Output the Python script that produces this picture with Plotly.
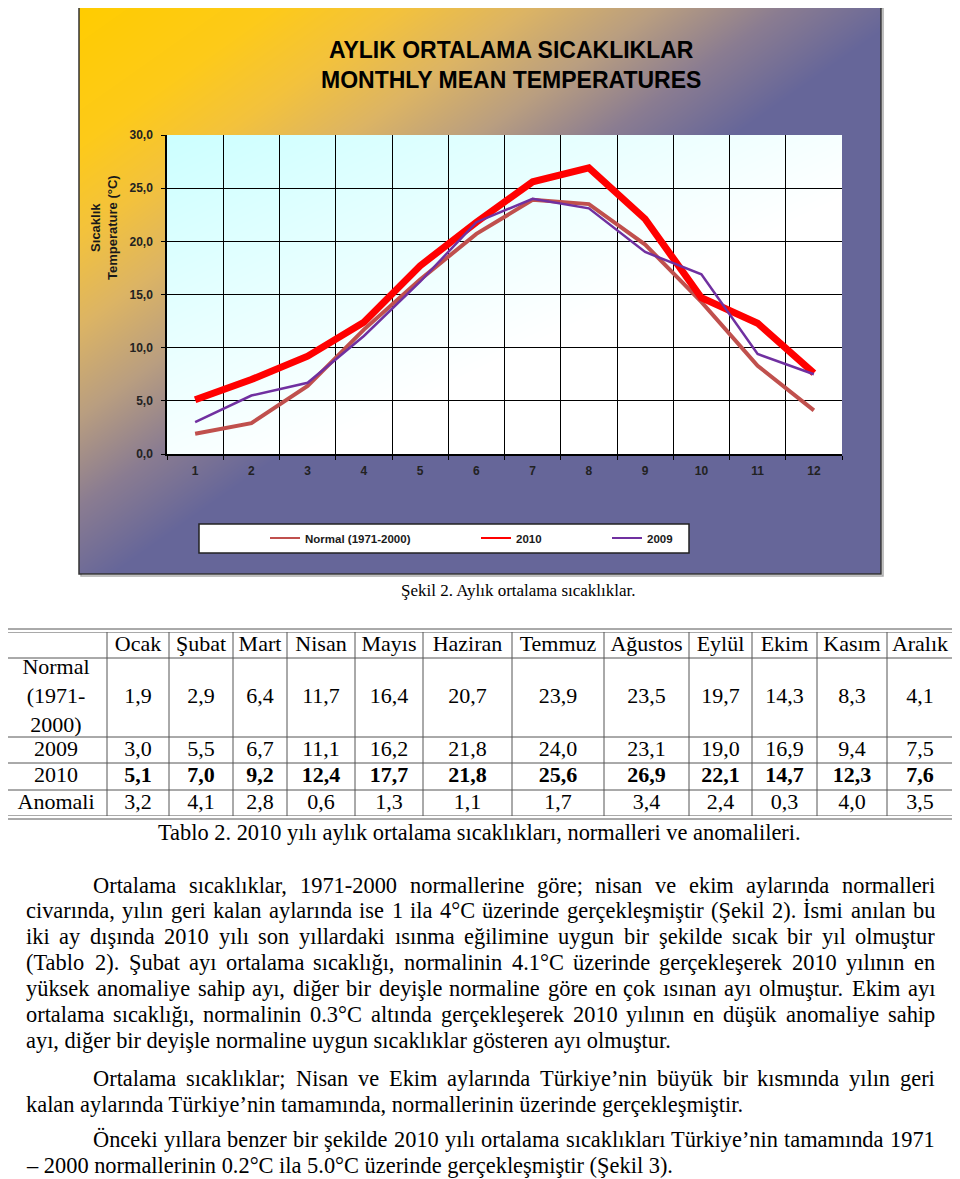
import plotly.graph_objects as go

# ---------------- data ----------------
months = ["1", "2", "3", "4", "5", "6", "7", "8", "9", "10", "11", "12"]
month_names = ["Ocak", "Şubat", "Mart", "Nisan", "Mayıs", "Haziran",
               "Temmuz", "Ağustos", "Eylül", "Ekim", "Kasım", "Aralık"]
normal = [1.9, 2.9, 6.4, 11.7, 16.4, 20.7, 23.9, 23.5, 19.7, 14.3, 8.3, 4.1]
y2009 = [3.0, 5.5, 6.7, 11.1, 16.2, 21.8, 24.0, 23.1, 19.0, 16.9, 9.4, 7.5]
y2010 = [5.1, 7.0, 9.2, 12.4, 17.7, 21.8, 25.6, 26.9, 22.1, 14.7, 12.3, 7.6]
anomali = [3.2, 4.1, 2.8, 0.6, 1.3, 1.1, 1.7, 3.4, 2.4, 0.3, 4.0, 3.5]
row_labels = ["Normal<br>(1971-<br>2000)", "2009", "2010", "Anomali"]
series_names = ["Normal (1971-2000)", "2010", "2009"]
y_ticks = [0, 5, 10, 15, 20, 25, 30]

# ---------------- page geometry (reference pixel coords, page has 8px body margin) ----------------
OFF = 8
W, H = 952, 1171


def X(px):
    return (px - OFF) / W


def Y(py):
    return 1 - (py - OFF) / H


def D(a, b):
    return [max(0.0, min(1.0, a)), max(0.0, min(1.0, b))]


def fmt(v):
    return f"{v:.1f}".replace(".", ",")


SANS = "Liberation Sans"
SERIF = "Liberation Serif"

fig = go.Figure()

# background gradients (decoration)
panel_scale = [[0.0, "rgb(255,204,0)"], [0.12, "rgb(253,202,25)"], [0.2, "rgb(243,194,60)"],
               [0.28, "rgb(220,180,100)"], [0.36, "rgb(185,158,128)"], [0.44, "rgb(138,124,145)"],
               [0.52, "rgb(102,102,153)"], [1.0, "rgb(102,102,153)"]]
plot_scale = [[0.0, "rgb(204,255,255)"], [0.6, "rgb(255,255,255)"], [1.0, "rgb(255,255,255)"]]
grad_z = [[0.5, 1.0], [0.0, 0.5]]
fig.add_trace(go.Heatmap(z=grad_z, x=[0, 1], y=[0, 1], zsmooth="best", colorscale=panel_scale,
                         zmin=0, zmax=1, showscale=False, hoverinfo="skip", xaxis="x", yaxis="y"))
fig.add_trace(go.Heatmap(z=grad_z, x=[0, 1], y=[0, 1], zsmooth="best", colorscale=plot_scale,
                         zmin=0, zmax=1, showscale=False, hoverinfo="skip", xaxis="x2", yaxis="y2"))

# lines
styles = {
    "Normal (1971-2000)": dict(color="rgb(192,80,77)", width=4),
    "2010": dict(color="rgb(255,0,0)", width=7),
    "2009": dict(color="rgb(112,48,160)", width=2.5),
}
data_map = {"Normal (1971-2000)": normal, "2010": y2010, "2009": y2009}
for nm in series_names:
    fig.add_trace(go.Scatter(x=months, y=data_map[nm], mode="lines", line=styles[nm],
                             name=nm, showlegend=False, xaxis="x3", yaxis="y3", hoverinfo="skip"))

legend_ids = ["legend", "legend2", "legend3"]
for nm, lg in zip(series_names, legend_ids):
    fig.add_trace(go.Scatter(x=[None], y=[None], mode="lines",
                             line=dict(color=styles[nm]["color"], width=2),
                             name=nm, showlegend=True, legend=lg, xaxis="x3", yaxis="y3"))

# ---------------- table (text on its own axes) ----------------
col_widths = [102, 62, 64, 54, 68, 68, 89, 92, 85, 63, 65, 70, 66]
row_heights = [26, 79, 26, 27, 26]
col_edges = [0]
for w in col_widths:
    col_edges.append(col_edges[-1] + w)
row_edges = [0]
for h in row_heights:
    row_edges.append(row_edges[-1] + h)
col_centers = [(col_edges[i] + col_edges[i + 1]) / 2 for i in range(len(col_widths))]
row_centers = [(row_edges[i] + row_edges[i + 1]) / 2 for i in range(len(row_heights))]

# table axes: left part of the page (x<8) is outside the figure, so extend range accordingly
TX0 = 5
tab_left = max(TX0, OFF)
x4_range = [tab_left - TX0, col_edges[-1]]

TFONT = dict(family=SERIF, size=22, color="black")
fig.add_trace(go.Scatter(x=col_centers[1:], y=[row_centers[0]] * 12, text=month_names, mode="text",
                         textposition="middle center", textfont=TFONT, showlegend=False,
                         hoverinfo="skip", xaxis="x4", yaxis="y4", cliponaxis=False))
fig.add_trace(go.Scatter(x=[col_centers[0]] * 4, y=row_centers[1:], text=row_labels, mode="text",
                         textposition="middle center", textfont=TFONT, showlegend=False,
                         hoverinfo="skip", xaxis="x4", yaxis="y4", cliponaxis=False))
for r, vals in enumerate([normal, y2009, y2010, anomali]):
    tf = dict(TFONT)
    if r == 2:
        tf["weight"] = "bold"
    fig.add_trace(go.Scatter(x=col_centers[1:], y=[row_centers[r + 1]] * 12, text=[fmt(v) for v in vals],
                             mode="text", textposition="middle center", textfont=tf, showlegend=False,
                             hoverinfo="skip", xaxis="x4", yaxis="y4", cliponaxis=False))

shapes = []
TLINE = dict(color="#555555", width=1)
for xe in col_edges:
    shapes.append(dict(type="line", xref="x4", yref="y4", x0=xe, x1=xe, y0=0, y1=row_edges[-1], line=TLINE))
for ye in row_edges:
    shapes.append(dict(type="line", xref="x4", yref="y4", x0=0, x1=col_edges[-1], y0=ye, y1=ye, line=TLINE))
# outer double border
shapes.append(dict(type="rect", xref="paper", yref="paper", x0=X(2), x1=X(957), y0=Y(819), y1=Y(629),
                   line=dict(color="#555555", width=1)))

# panel border + shadow
shapes.append(dict(type="rect", xref="paper", yref="paper", x0=X(81), x1=X(883), y0=Y(576), y1=Y(8),
                   line=dict(color="#aaaaaa", width=1.5), layer="below"))
shapes.append(dict(type="rect", xref="paper", yref="paper", x0=X(79), x1=X(881), y0=Y(574), y1=Y(6),
                   line=dict(color="#333333", width=1.5)))
# legend box
shapes.append(dict(type="rect", xref="paper", yref="paper", x0=X(199), x1=X(689), y0=Y(553), y1=Y(524),
                   fillcolor="white", line=dict(color="#222222", width=1.5)))

annotations = []
annotations.append(dict(x=X(511), y=Y(65), xref="paper", yref="paper", showarrow=False,
                        text="AYLIK ORTALAMA SICAKLIKLAR<br>MONTHLY MEAN TEMPERATURES",
                        font=dict(family=SANS, size=23, color="black", weight="bold"),
                        xanchor="center", yanchor="middle"))
annotations.append(dict(x=X(104), y=Y(228), xref="paper", yref="paper", showarrow=False,
                        text="Sıcaklık<br>Temperature (°C)", textangle=-90,
                        font=dict(family=SANS, size=13, color="#1a1a1a", weight="bold"),
                        xanchor="center", yanchor="middle"))
annotations.append(dict(x=X(518), y=Y(590), xref="paper", yref="paper", showarrow=False,
                        text="Şekil 2. Aylık ortalama sıcaklıklar.",
                        font=dict(family=SERIF, size=17, color="black"), xanchor="center", yanchor="middle"))
annotations.append(dict(x=X(479), y=Y(832), xref="paper", yref="paper", showarrow=False,
                        text="Tablo 2. 2010 yılı aylık ortalama sıcaklıkları, normalleri ve anomalileri.",
                        font=dict(family=SERIF, size=22.4, color="black"), xanchor="center", yanchor="middle"))

# Times metrics (units per 1000 em) for justification
TW = {" ": 250, "a": 444, "b": 500, "c": 444, "d": 500, "e": 444, "f": 333, "g": 500, "h": 500,
      "i": 278, "j": 278, "k": 500, "l": 278, "m": 778, "n": 500, "o": 500, "p": 500, "q": 500,
      "r": 333, "s": 389, "t": 278, "u": 500, "v": 500, "w": 722, "x": 500, "y": 500, "z": 444,
      "A": 722, "B": 667, "C": 667, "D": 722, "E": 611, "F": 556, "G": 722, "H": 722, "I": 333,
      "K": 722, "L": 611, "M": 889, "N": 722, "O": 722, "P": 556, "R": 667, "S": 556, "T": 611,
      "U": 722, ".": 250, ",": 250, ";": 278, ":": 278, "(": 333, ")": 333, "-": 333, "°": 400,
      "’": 333, "–": 500, "ı": 278, "ş": 389, "ğ": 500, "ü": 500, "ö": 500, "ç": 444, "Ş": 556,
      "İ": 333, "Ö": 722, "Ü": 722, "Ç": 667}


def tw(s, size):
    return sum(TW.get(ch, 500) for ch in s) * size / 1000


PSIZE = 22.4
RIGHT = 934
para_lines = [
    (92, 885, "Ortalama sıcaklıklar, 1971-2000 normallerine göre; nisan ve ekim aylarında normalleri", True),
    (25, 910, "civarında, yılın geri kalan aylarında ise 1 ila 4°C üzerinde gerçekleşmiştir (Şekil 2). İsmi anılan bu", True),
    (25, 936, "iki ay dışında 2010 yılı son yıllardaki ısınma eğilimine uygun bir şekilde sıcak bir yıl olmuştur", True),
    (25, 962, "(Tablo 2). Şubat ayı ortalama sıcaklığı, normalinin 4.1°C üzerinde gerçekleşerek 2010 yılının en", True),
    (25, 988, "yüksek anomaliye sahip ayı, diğer bir deyişle normaline göre en çok ısınan ayı olmuştur. Ekim ayı", True),
    (25, 1014, "ortalama sıcaklığı, normalinin 0.3°C altında gerçekleşerek 2010 yılının en düşük anomaliye sahip", True),
    (25, 1040, "ayı, diğer bir deyişle normaline uygun sıcaklıklar gösteren ayı olmuştur.", False),
    (92, 1078, "Ortalama sıcaklıklar; Nisan ve Ekim aylarında Türkiye’nin büyük bir kısmında yılın geri", True),
    (25, 1104, "kalan aylarında Türkiye’nin tamamında, normallerinin üzerinde gerçekleşmiştir.", False),
    (92, 1139, "Önceki yıllara benzer bir şekilde 2010 yılı ortalama sıcaklıkları Türkiye’nin tamamında 1971", True),
    (25, 1165, "– 2000 normallerinin 0.2°C ila 5.0°C üzerinde gerçekleşmiştir (Şekil 3).", False),
]
PFONT = dict(family=SERIF, size=PSIZE, color="black")
for px, py, txt, justify in para_lines:
    if not justify:
        annotations.append(dict(x=X(px), y=Y(py), xref="paper", yref="paper", showarrow=False,
                                text=txt, font=PFONT, xanchor="left", yanchor="middle", borderpad=0))
        continue
    words = txt.split(" ")
    widths = [tw(w, PSIZE) for w in words]
    gap = (RIGHT - px - sum(widths)) / (len(words) - 1)
    cx = px
    for w, wd in zip(words, widths):
        annotations.append(dict(x=X(cx), y=Y(py), xref="paper", yref="paper", showarrow=False,
                                text=w, font=PFONT, xanchor="left", yanchor="middle", borderpad=0))
        cx += wd + gap

hidden = dict(visible=False, range=[0, 1], fixedrange=True)
legend_common = dict(bgcolor="rgba(0,0,0,0)", borderwidth=0, orientation="h",
                     yanchor="middle", xanchor="left",
                     font=dict(family=SANS, size=11.5, color="#1a1a1a", weight="bold"))

fig.update_layout(
    width=W, height=H, margin=dict(l=0, r=0, t=0, b=0, autoexpand=False),
    paper_bgcolor="white", plot_bgcolor="rgba(0,0,0,0)",
    separators=",.",
    xaxis=dict(domain=D(X(79), X(881)), anchor="y", **hidden),
    yaxis=dict(domain=D(Y(574), 1.0), anchor="x", **hidden),
    xaxis2=dict(domain=D(X(167), X(842)), anchor="y2", **hidden),
    yaxis2=dict(domain=D(Y(454), Y(135)), anchor="x2", **hidden),
    xaxis3=dict(domain=D(X(167), X(842)), anchor="y3", type="category", range=[-0.5, 11.5],
                tickson="boundaries", showgrid=True, gridcolor="black", gridwidth=1,
                ticks="outside", ticklen=4, tickcolor="black", showline=True, linecolor="black",
                linewidth=1.5, ticklabelstandoff=5, automargin=False, fixedrange=True,
                tickfont=dict(family=SANS, size=12, color="#222222", weight="bold")),
    yaxis3=dict(domain=D(Y(454), Y(135)), anchor="x3", range=[0, 30], tickvals=y_ticks,
                tickformat=".1f", showgrid=True, gridcolor="black", gridwidth=1, zeroline=False,
                ticks="outside", ticklen=4, tickcolor="black", showline=True, linecolor="black",
                linewidth=1.5, ticklabelstandoff=6, automargin=False, fixedrange=True,
                tickfont=dict(family=SANS, size=12, color="#222222", weight="bold")),
    xaxis4=dict(domain=D(X(tab_left), X(953)), anchor="y4", visible=False, range=x4_range,
                fixedrange=True, automargin=False),
    yaxis4=dict(domain=D(Y(816), Y(632)), anchor="x4", visible=False, range=[row_edges[-1], 0],
                fixedrange=True, automargin=False),
    legend=dict(x=X(265), y=Y(538), **legend_common),
    legend2=dict(x=X(476), y=Y(538), **legend_common),
    legend3=dict(x=X(607), y=Y(538), **legend_common),
    shapes=shapes, annotations=annotations,
)

fig.write_html("out.html")
